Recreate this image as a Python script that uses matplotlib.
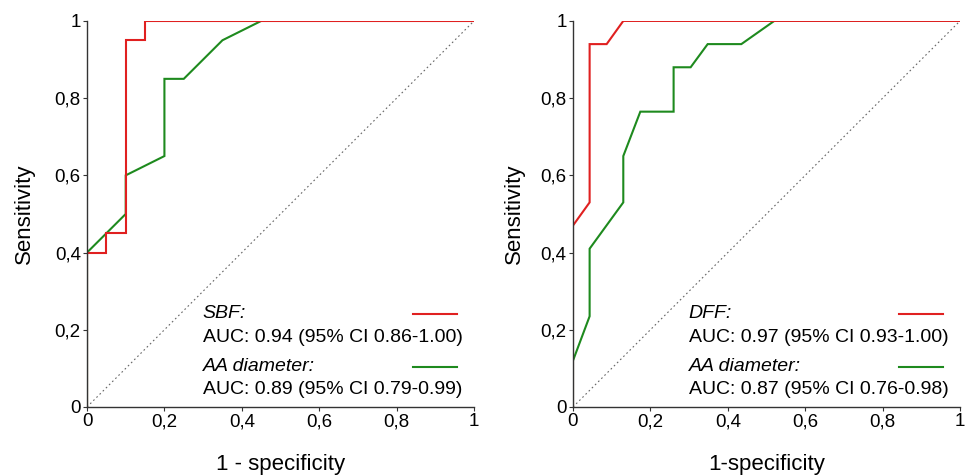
import matplotlib
matplotlib.use("Agg")
import matplotlib.pyplot as plt

# ----------------------------
# Data
# ----------------------------

# left panel
sbf_fpr = [0, 0, 0.05, 0.05, 0.10, 0.10, 0.15, 0.15, 1]
sbf_tpr = [0, 0.40, 0.40, 0.45, 0.45, 0.95, 0.95, 1.0, 1.0]

aa1_fpr = [0, 0, 0.10, 0.10, 0.20, 0.20, 0.25, 0.35, 0.45, 1]
aa1_tpr = [0, 0.40, 0.50, 0.60, 0.65, 0.85, 0.85, 0.95, 1.0, 1.0]

# right panel
dff_fpr = [0, 0, 0.043, 0.043, 0.087, 0.13, 1]
dff_tpr = [0, 0.47, 0.53, 0.94, 0.94, 1.0, 1.0]

aa2_fpr = [0, 0, 0.043, 0.043, 0.13, 0.13, 0.174, 0.26, 0.26, 0.304, 0.348, 0.435, 0.52, 1]
aa2_tpr = [0, 0.12, 0.235, 0.41, 0.53, 0.65, 0.765, 0.765, 0.88, 0.88, 0.94, 0.94, 1.0, 1.0]

ticks = [0, 0.2, 0.4, 0.6, 0.8, 1]
tick_labels = ["0", "0,2", "0,4", "0,6", "0,8", "1"]

panels = [
    dict(curves=[(sbf_fpr, sbf_tpr), (aa1_fpr, aa1_tpr)],
         names=["SBF:", "AA diameter:"],
         aucs=["AUC: 0.94 (95% CI 0.86-1.00)", "AUC: 0.89 (95% CI 0.79-0.99)"],
         xlabel="1 - specificity", ylab_x=-0.162),
    dict(curves=[(dff_fpr, dff_tpr), (aa2_fpr, aa2_tpr)],
         names=["DFF:", "AA diameter:"],
         aucs=["AUC: 0.97 (95% CI 0.93-1.00)", "AUC: 0.87 (95% CI 0.76-0.98)"],
         xlabel="1-specificity", ylab_x=-0.150),
]

colors = ["#e02020", "#1e8a1e"]

plt.rcParams["font.family"] = ["Liberation Sans", "DejaVu Sans"]

fig = plt.figure(figsize=(9.7, 4.76), dpi=100)
lefts = [0.0897, 0.5907]

for left, p in zip(lefts, panels):
    ax = fig.add_axes([left, 0.145, 0.399, 0.811])

    ax.plot([0, 1], [0, 1], color="#666666", lw=0.8, ls=(0, (1.5, 2.5)))
    # green first so red sits on top
    ax.plot(*p["curves"][1], color=colors[1], lw=1.5, solid_joinstyle="miter")
    ax.plot(*p["curves"][0], color=colors[0], lw=1.5, solid_joinstyle="miter")

    ax.set_xlim(0, 1)
    ax.set_ylim(0, 1)
    ax.set_xticks(ticks)
    ax.set_xticklabels(tick_labels)
    ax.set_yticks(ticks)
    ax.set_yticklabels(tick_labels)
    ax.tick_params(direction="out", length=3, width=0.8, pad=1.5, labelsize=13.5,
                   color="#333333")
    for s in ["top", "right"]:
        ax.spines[s].set_visible(False)
    for s in ["left", "bottom"]:
        ax.spines[s].set_color("#333333")
        ax.spines[s].set_linewidth(1.0)
    ax.set_xlabel(p["xlabel"], fontsize=16)
    ax.set_ylabel("Sensitivity", fontsize=16)
    ax.xaxis.set_label_coords(0.5, -0.150)
    ax.yaxis.set_label_coords(p["ylab_x"], 0.5)
    ax.xaxis.label.set_va("center")
    ax.yaxis.label.set_va("center")

    # legend block
    ys_name = [0.241, 0.104]
    ys_auc = [0.179, 0.044]
    for i in range(2):
        ax.text(0.299, ys_name[i], p["names"][i], style="italic", fontsize=14,
                va="center", ha="left")
        ax.text(0.299, ys_auc[i], p["aucs"][i], fontsize=14,
                va="center", ha="left")
        ax.plot([0.843, 0.957], [ys_name[i], ys_name[i]], color=colors[i], lw=1.5)

fig.savefig("out.png", dpi=100)
